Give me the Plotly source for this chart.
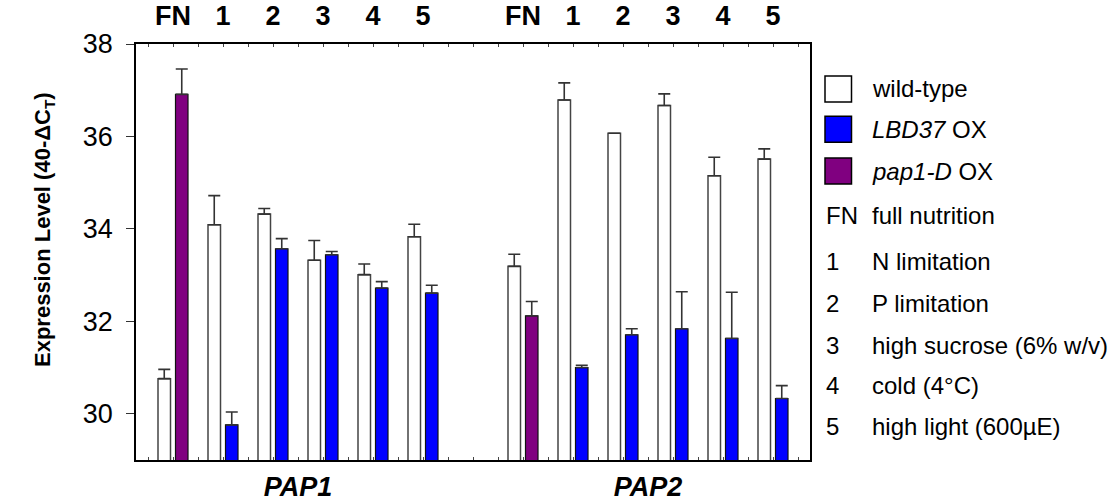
import plotly.graph_objects as go

# Condition labels shown above each bar pair
conditions = ["FN", "1", "2", "3", "4", "5"]
genes = ["PAP1", "PAP2"]

# Expression level (40 - ΔCT) and upper error per condition
pap1_wt = [30.76, 34.09, 34.32, 33.32, 33.01, 33.83]
pap1_wt_err = [0.20, 0.63, 0.12, 0.43, 0.23, 0.27]
pap1_ox = [36.91, 29.76, 33.57, 33.44, 32.72, 32.61]   # FN = pap1-D OX, 1-5 = LBD37 OX
pap1_ox_err = [0.55, 0.28, 0.22, 0.07, 0.14, 0.17]

pap2_wt = [33.19, 36.79, 36.07, 36.67, 35.15, 35.51]
pap2_wt_err = [0.26, 0.37, 0.0, 0.25, 0.40, 0.22]
pap2_ox = [32.12, 31.00, 31.71, 31.84, 31.63, 30.33]
pap2_ox_err = [0.31, 0.05, 0.13, 0.80, 1.00, 0.28]

legend_rows = [("FN", "full nutrition"), ("1", "N limitation"), ("2", "P limitation"),
               ("3", "high sucrose (6% w/v)"), ("4", "cold (4°C)"), ("5", "high light (600µE)")]

# ---- layout geometry ----
GENE_START = [0, 7]          # group slot where each gene block starts
OFFSET = 0.175               # half distance between paired bars
BAR_W = 0.25
FONT = "Liberation Sans, Arial, sans-serif"
BLUE = "#0000FF"
PURPLE = "#800080"
ERR_COLOR = "#333333"

n = len(conditions)
pos = [GENE_START[g] + i for g in range(2) for i in range(n)]
wt = pap1_wt + pap2_wt
wt_err = pap1_wt_err + pap2_wt_err
ox = pap1_ox + pap2_ox
ox_err = pap1_ox_err + pap2_ox_err

fig = go.Figure()

def err(vals):
    return dict(type="data", array=vals, arrayminus=[0] * len(vals), symmetric=False,
                color=ERR_COLOR, thickness=1.6, width=6)

# wild-type bars (left of each pair)
fig.add_trace(go.Bar(
    x=[p - OFFSET for p in pos], y=wt, width=BAR_W,
    marker=dict(color="white", line=dict(color="#444444", width=1.5)),
    error_y=err(wt_err), name="wild-type", xaxis="x", yaxis="y"))

# LBD37 OX bars (conditions 1-5)
lbd_idx = [k for k in range(len(pos)) if conditions[k % n] != "FN"]
fig.add_trace(go.Bar(
    x=[pos[k] + OFFSET for k in lbd_idx], y=[ox[k] for k in lbd_idx], width=BAR_W,
    marker=dict(color=BLUE, line=dict(color="#111111", width=1.2)),
    error_y=err([ox_err[k] for k in lbd_idx]), name="LBD37 OX", xaxis="x2", yaxis="y"))

# pap1-D OX bars (full nutrition)
pap_idx = [k for k in range(len(pos)) if conditions[k % n] == "FN"]
fig.add_trace(go.Bar(
    x=[pos[k] + OFFSET for k in pap_idx], y=[ox[k] for k in pap_idx], width=BAR_W,
    marker=dict(color=PURPLE, line=dict(color="#111111", width=1.2)),
    error_y=err([ox_err[k] for k in pap_idx]), name="pap1-D OX", xaxis="x2", yaxis="y"))

x_range = [-0.74, 12.74]
minor_ticks = dict(ticks="inside", ticklen=3, tickcolor="#444", tick0=-0.5, dtick=0.5,
                   showgrid=False)

# condition labels along the top, gene names along the bottom
top_vals = [GENE_START[g] + i for g in range(2) for i in range(n)]
top_text = ["<b>" + conditions[i] + "</b>" for g in range(2) for i in range(n)]
bottom_vals = [GENE_START[g] + (n - 1) / 2 for g in range(2)]
bottom_text = ["<b><i>" + g + "</i></b>" for g in genes]

fig.update_layout(
    width=1117, height=502,
    margin=dict(l=136, r=307, t=44, b=42),
    paper_bgcolor="white", plot_bgcolor="white",
    showlegend=False, barmode="overlay",
    font=dict(family=FONT, color="black"),
    xaxis=dict(range=x_range, tickmode="array", tickvals=bottom_vals, ticktext=bottom_text,
               ticks="inside", ticklen=3, tickcolor="#444", minor=minor_ticks,
               showgrid=False, zeroline=False, automargin=False,
               showline=True, linecolor="black", linewidth=1.5,
               tickfont=dict(size=27, family=FONT), ticklabelstandoff=2),
    xaxis2=dict(range=x_range, overlaying="x", side="top", tickmode="array",
                tickvals=top_vals, ticktext=top_text, ticks="inside", ticklen=3,
                tickcolor="#444", minor=minor_ticks, showgrid=False, zeroline=False,
                automargin=False, showline=True, linecolor="black", linewidth=1.5,
                tickfont=dict(size=27, family=FONT), ticklabelstandoff=6),
    yaxis=dict(range=[29, 38], tickvals=[30, 32, 34, 36, 38], ticks="outside", ticklen=8,
               tickcolor="#333", showgrid=False, zeroline=False, showline=True,
               automargin=False, linecolor="black", linewidth=1.5, mirror=True,
               tickfont=dict(size=27, family=FONT), ticklabelstandoff=8),
)

# y-axis title
fig.add_annotation(text="<b>Expression Level (40-ΔC<sub>T</sub>)</b>", textangle=-90,
                   xref="paper", yref="paper", x=(28 - 136) / 674, y=(460 - 230) / 416,
                   showarrow=False, font=dict(size=22, family=FONT))

# ---- legend drawn in the right margin ----
def px_x(p):
    return (p - 136) / 674

def px_y(p):
    return (460 - p) / 416

swatches = [("wild-type", "white", 89), ("<i>LBD37</i> OX", BLUE, 129.3),
            ("<i>pap1-D</i> OX", PURPLE, 171)]
for label, color, cy in swatches:
    fig.add_shape(type="rect", xref="paper", yref="paper",
                  x0=px_x(825), x1=px_x(851.5), y0=px_y(cy + 13), y1=px_y(cy - 13),
                  fillcolor=color, line=dict(color="black", width=1.5))
    fig.add_annotation(text=label, xref="paper", yref="paper", x=px_x(870), y=px_y(cy),
                       xanchor="left", yanchor="middle", showarrow=False,
                       font=dict(size=24, family=FONT))

row_y = [215, 261.7, 303.3, 345, 385, 426.7]
for (key, desc), cy in zip(legend_rows, row_y):
    fig.add_annotation(text=key, xref="paper", yref="paper", x=px_x(824), y=px_y(cy),
                       xanchor="left", yanchor="middle", showarrow=False,
                       font=dict(size=24, family=FONT))
    fig.add_annotation(text=desc, xref="paper", yref="paper", x=px_x(870), y=px_y(cy),
                       xanchor="left", yanchor="middle", showarrow=False,
                       font=dict(size=24, family=FONT))

fig.write_html("out.html")
